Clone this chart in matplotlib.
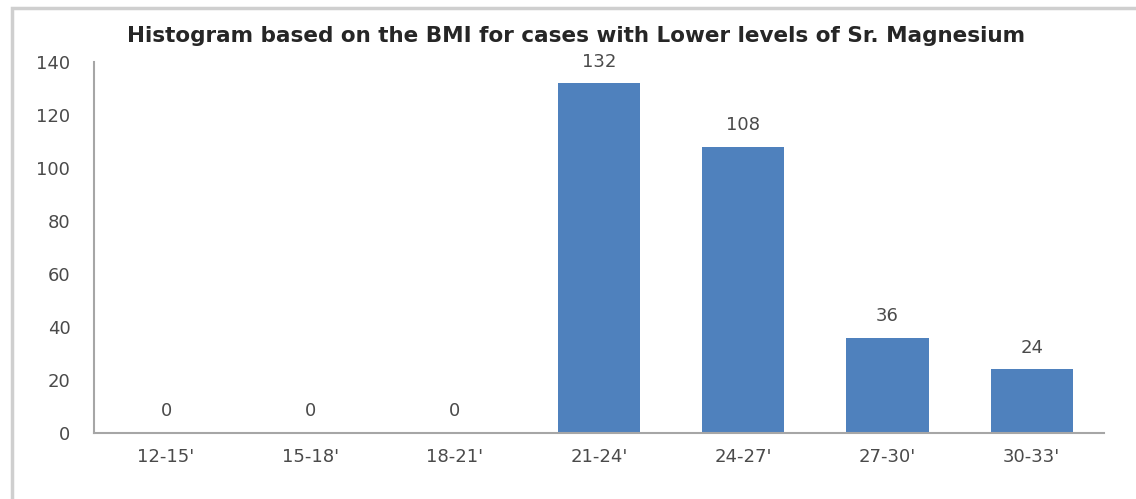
import matplotlib.pyplot as plt
from matplotlib.patches import Rectangle

# BMI bins and counts
bmi_bins = ["12-15'", "15-18'", "18-21'", "21-24'", "24-27'", "27-30'", "30-33'"]
counts = [0, 0, 0, 132, 108, 36, 24]
y_ticks = [0, 20, 40, 60, 80, 100, 120, 140]

plt.rcParams['font.family'] = ['DejaVu Sans']

fig = plt.figure(figsize=(11.36, 4.99), dpi=100)
ax = fig.add_axes([0.0827, 0.1323, 0.889, 0.7435])

# chart frame around the whole figure
fig.patches.append(Rectangle((12 / 1136, -0.05), 1.1, 1 - 8 / 499 + 0.05,
                             transform=fig.transFigure, fill=False,
                             edgecolor="#cfcfcf", linewidth=2.5))

x = range(len(bmi_bins))
bars = ax.bar(x, counts, width=0.57, color="#4F81BD")

for xi, v in zip(x, counts):
    ax.annotate(str(v), (xi, v), xytext=(0, 9), textcoords="offset points",
                ha="center", va="bottom", fontsize=13, color="#4a4a4a")

ax.set_xlim(-0.5, len(bmi_bins) - 0.5)
ax.set_ylim(0, 140)
ax.set_yticks(y_ticks)
ax.set_xticks(list(x))
ax.set_xticklabels(bmi_bins)
ax.tick_params(axis="both", length=0, labelsize=13, labelcolor="#4a4a4a")
ax.tick_params(axis="y", pad=17)
ax.tick_params(axis="x", pad=11)

for side in ["top", "right"]:
    ax.spines[side].set_visible(False)
for side in ["left", "bottom"]:
    ax.spines[side].set_color("#a6a6a6")
    ax.spines[side].set_linewidth(1.5)

fig.text(0.507, 1 - 36 / 499, "Histogram based on the BMI for cases with Lower levels of Sr. Magnesium",
         ha="center", va="center", fontsize=15.5, fontweight="bold", color="#262626")

fig.savefig("out.png", dpi=100)
